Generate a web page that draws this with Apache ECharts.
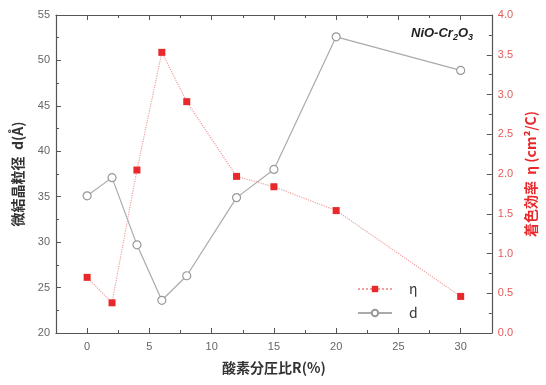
<!DOCTYPE html>
<html><head><meta charset="utf-8">
<script src="https://cdn.jsdelivr.net/npm/echarts@6/dist/echarts.min.js"></script>
<style>html,body{margin:0;padding:0;background:#fff}#c{width:546px;height:385px}</style>
</head><body><div id="c"></div>
<script>
const ratioR = [0, 2, 4, 6, 8, 12, 15, 20, 30];
const grainD = [35.1, 37.1, 29.7, 23.6, 26.3, 34.9, 38.0, 52.6, 48.9];
const etaVals = [0.70, 0.38, 2.05, 3.53, 2.91, 1.97, 1.84, 1.54, 0.46];
const xMajorTicks = [0, 5, 10, 15, 20, 25, 30];
const xMinorTicks = [2.5, 7.5, 12.5, 17.5, 22.5, 27.5];

const axisCol = '#555';
const redCol = '#e8282a';
const redLabel = '#e45a5a';
const font = '"Noto Sans CJK JP", "Noto Sans", sans-serif';

const chart = echarts.init(document.getElementById('c'));
const grid = {left: 56, right: 49, top: 15, bottom: 52};
const xBase = {type: 'value', min: -2.5, max: 32.5, gridIndex: 0, splitLine: {show: false}};
chart.setOption({
  animation: false,
  grid: grid,
  title: {
    text: '{a|NiO-Cr}{s|2}{a|O}{s|3}',
    right: 68, top: 20,
    textStyle: {rich: {
      a: {fontSize: 13, fontStyle: 'italic', fontWeight: 'bold', color: '#222', fontFamily: 'Liberation Sans'},
      s: {fontSize: 9, fontStyle: 'italic', fontWeight: 'bold', color: '#222', fontFamily: 'Liberation Sans', verticalAlign: 'bottom', padding: [8, 0, 0, 0]}
    }}
  },
  legend: {
    orient: 'vertical', left: 352, top: 277, itemGap: 10, itemWidth: 34, itemHeight: 8,
    textStyle: {fontSize: 14, color: '#333', fontFamily: font, padding: [0, 0, 0, 12]},
    data: ['η', 'd']
  },
  xAxis: [
    Object.assign({}, xBase, {
      position: 'bottom',
      name: '酸素分圧比R(%)', nameLocation: 'middle', nameGap: 28,
      nameTextStyle: {fontSize: 14, fontWeight: 'bold', color: '#333', fontFamily: font},
      axisLine: {onZero: false, lineStyle: {color: axisCol, width: 1.2}},
      axisTick: {inside: true, length: 5, customValues: xMajorTicks, lineStyle: {color: axisCol}},
      axisLabel: {customValues: xMajorTicks, color: '#666', fontSize: 11, margin: 8, fontFamily: 'Liberation Sans'}
    }),
    Object.assign({}, xBase, {
      position: 'bottom',
      axisLine: {show: false, onZero: false},
      axisTick: {inside: true, length: 3, customValues: xMinorTicks, lineStyle: {color: axisCol}},
      axisLabel: {show: false}
    }),
    Object.assign({}, xBase, {
      position: 'top',
      axisLine: {onZero: false, lineStyle: {color: axisCol, width: 1.2}},
      axisTick: {inside: true, length: 5, customValues: xMajorTicks, lineStyle: {color: axisCol}},
      axisLabel: {show: false}
    }),
    Object.assign({}, xBase, {
      position: 'top',
      axisLine: {show: false, onZero: false},
      axisTick: {inside: true, length: 3, customValues: xMinorTicks, lineStyle: {color: axisCol}},
      axisLabel: {show: false}
    })
  ],
  yAxis: [
    {
      type: 'value', min: 20, max: 55, interval: 5, position: 'left',
      name: '微結晶粒径  d(Å)', nameLocation: 'middle', nameGap: 31, nameRotate: 90,
      nameTextStyle: {fontSize: 14, fontWeight: 'bold', color: '#333', fontFamily: font},
      axisLine: {show: true, onZero: false, lineStyle: {color: axisCol, width: 1.2}},
      axisTick: {inside: true, length: 5, lineStyle: {color: axisCol}},
      minorTick: {show: true, splitNumber: 2, length: 3, lineStyle: {color: axisCol}},
      axisLabel: {color: '#666', fontSize: 11, margin: 6, fontFamily: 'Liberation Sans'},
      splitLine: {show: false}
    },
    {
      type: 'value', min: 0, max: 4, interval: 0.5, position: 'right',
      name: '着色効率  η (cm²/C)', nameLocation: 'middle', nameGap: 32, nameRotate: 90,
      nameTextStyle: {fontSize: 14, fontWeight: 'bold', color: redCol, fontFamily: font},
      axisLine: {show: true, onZero: false, lineStyle: {color: axisCol, width: 1.2}},
      axisTick: {inside: true, length: 5, lineStyle: {color: axisCol}},
      minorTick: {show: true, splitNumber: 2, length: 3, lineStyle: {color: axisCol}},
      axisLabel: {color: redLabel, fontSize: 11, margin: 6, fontFamily: 'Liberation Sans', formatter: v => v.toFixed(1)},
      splitLine: {show: false}
    }
  ],
  series: [
    {
      name: 'η', type: 'line', xAxisIndex: 0, yAxisIndex: 1,
      data: ratioR.map((x, i) => [x, etaVals[i]]),
      symbol: 'rect', symbolSize: 7,
      itemStyle: {color: redCol},
      lineStyle: {color: '#f0a0a0', width: 1.2, type: 'dotted'}
    },
    {
      name: 'd', type: 'line', xAxisIndex: 0, yAxisIndex: 0,
      data: ratioR.map((x, i) => [x, grainD[i]]),
      symbol: 'circle', symbolSize: 8,
      itemStyle: {color: '#fff', borderColor: '#999', borderWidth: 1.2},
      lineStyle: {color: '#aaa', width: 1.2}
    }
  ]
});
</script></body></html>
